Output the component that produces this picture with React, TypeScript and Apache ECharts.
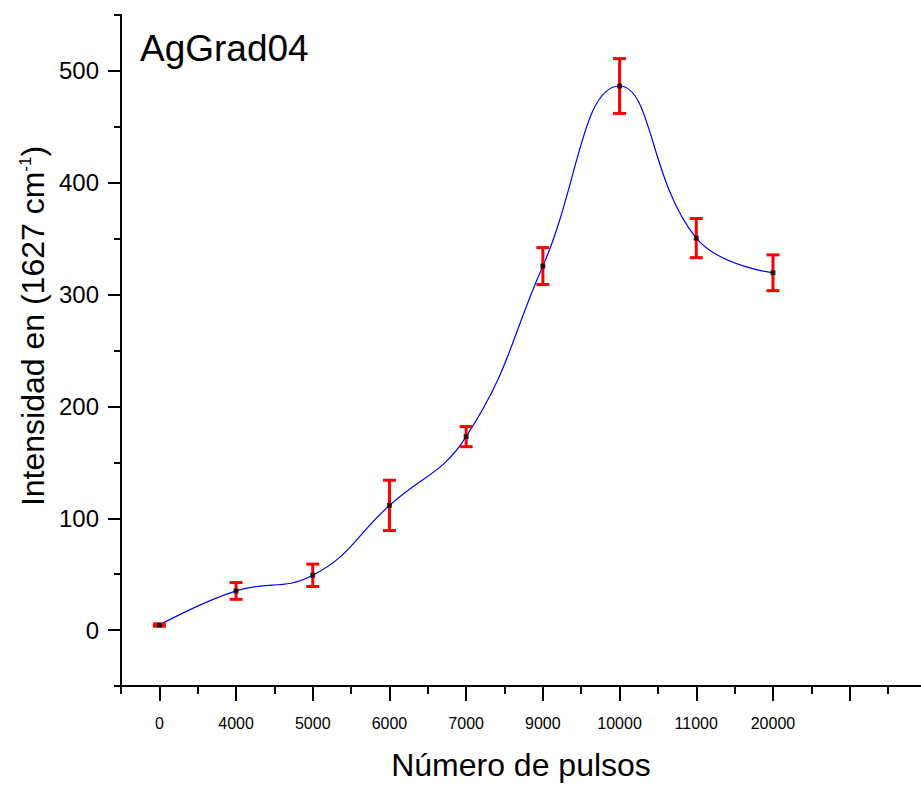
import React, { useEffect, useRef } from 'react';
import * as echarts from 'echarts';

const categories = ['0', '4000', '5000', '6000', '7000', '9000', '10000', '11000', '20000'];
const intensity = [4.5, 35, 49, 111.5, 173, 325.5, 486.5, 350.5, 319.5];
const errors = [1, 7.5, 10, 22.5, 9, 16.5, 24.5, 17.5, 16];
const yTickLabels = [0, 100, 200, 300, 400, 500];
const yMinorTicks = [-50, 50, 150, 250, 350, 450, 550];
const xMajorTicks = [0, 1, 2, 3, 4, 5, 6, 7, 8, 9];
const xMinorTicks = [-0.5, 0.5, 1.5, 2.5, 3.5, 4.5, 5.5, 6.5, 7.5, 8.5, 9.5];

const FONT = '"Liberation Sans", Arial, sans-serif';

export default function App() {
  const ref = useRef<HTMLDivElement>(null);
  useEffect(() => {
    document.body.style.margin = '0';
    const chart = echarts.init(ref.current!, null, { renderer: 'svg' });
    const lineData = intensity.map((v, i) => [i, v]);
    const errData = intensity.map((v, i) => [i, v, errors[i]]);
    const axisLine = { show: true, onZero: false, lineStyle: { color: '#000', width: 2 } };
    const hiddenLine = { show: false, onZero: false };
    chart.setOption({
      animation: false,
      backgroundColor: '#fff',
      grid: { left: 121, top: 15, right: 0, bottom: 96, containLabel: false },
      xAxis: [
        {
          type: 'value', min: -0.5, max: 9.93, position: 'bottom',
          axisLine,
          splitLine: { show: false },
          axisTick: { show: true, inside: false, length: 8, lineStyle: { color: '#000', width: 2 }, customValues: xMinorTicks },
          axisLabel: { show: false },
        },
        {
          type: 'value', min: -0.5, max: 9.93, position: 'bottom',
          axisLine: hiddenLine,
          splitLine: { show: false },
          axisTick: { show: true, inside: false, length: 15, lineStyle: { color: '#000', width: 2 }, customValues: xMajorTicks },
          axisLabel: {
            show: true, margin: 29, fontSize: 16, color: '#000', fontFamily: FONT,
            customValues: categories.map((_, i) => i),
            formatter: (v: number) => categories[Math.round(v)] ?? '',
          },
          name: 'Número de pulsos', nameLocation: 'middle', nameGap: 63,
          nameTextStyle: { fontSize: 32, color: '#000', fontFamily: FONT },
        },
      ],
      yAxis: [
        {
          type: 'value', min: -50, max: 550, position: 'left',
          axisLine,
          splitLine: { show: false },
          axisTick: { show: true, inside: false, length: 7, lineStyle: { color: '#000', width: 2 }, customValues: yMinorTicks },
          axisLabel: { show: false },
        },
        {
          type: 'value', min: -50, max: 550, position: 'left',
          axisLine: hiddenLine,
          splitLine: { show: false },
          axisTick: { show: true, inside: false, length: 13, lineStyle: { color: '#000', width: 2 }, customValues: yTickLabels },
          axisLabel: {
            show: true, margin: 22, fontSize: 24, color: '#000', fontFamily: FONT,
            customValues: yTickLabels,
          },
        },
      ],
      graphic: [
        {
          type: 'text', left: 140, top: 30,
          style: { text: 'AgGrad04', fontSize: 37, fill: '#000', fontFamily: FONT },
        },
        {
          type: 'text', x: 33, y: 326, rotation: Math.PI / 2,
          style: {
            text: '{a|Intensidad en (1627 cm}{s|-1}{a|)}',
            align: 'center', verticalAlign: 'middle',
            rich: {
              a: { fontSize: 32, fill: '#000', fontFamily: FONT },
              s: { fontSize: 17, fill: '#000', fontFamily: FONT, verticalAlign: 'top' },
            },
          },
        },
      ],
      series: [
        {
          type: 'line', data: lineData, smooth: 0.45, symbol: 'none',
          lineStyle: { color: '#0000ff', width: 1.2 }, z: 2,
        },
        {
          type: 'custom', data: errData, encode: { x: 0, y: 1 }, z: 3,
          renderItem: (params: any, api: any) => {
            const x = api.value(0);
            const v = api.value(1);
            const e = api.value(2);
            const top = api.coord([x, v + e]);
            const bot = api.coord([x, v - e]);
            const hw = 6.5;
            const st = { stroke: '#ff0000', lineWidth: 3 };
            return {
              type: 'group',
              children: [
                { type: 'line', shape: { x1: top[0], y1: top[1], x2: bot[0], y2: bot[1] }, style: st },
                { type: 'line', shape: { x1: top[0] - hw, y1: top[1], x2: top[0] + hw, y2: top[1] }, style: st },
                { type: 'line', shape: { x1: bot[0] - hw, y1: bot[1], x2: bot[0] + hw, y2: bot[1] }, style: st },
              ],
            };
          },
        },
        {
          type: 'scatter', data: lineData, symbol: 'rect', symbolSize: 5,
          itemStyle: { color: '#000' }, z: 4,
        },
      ],
    });
    return () => chart.dispose();
  }, []);
  return <div ref={ref} style={{ width: 921, height: 786 }} />;
}
